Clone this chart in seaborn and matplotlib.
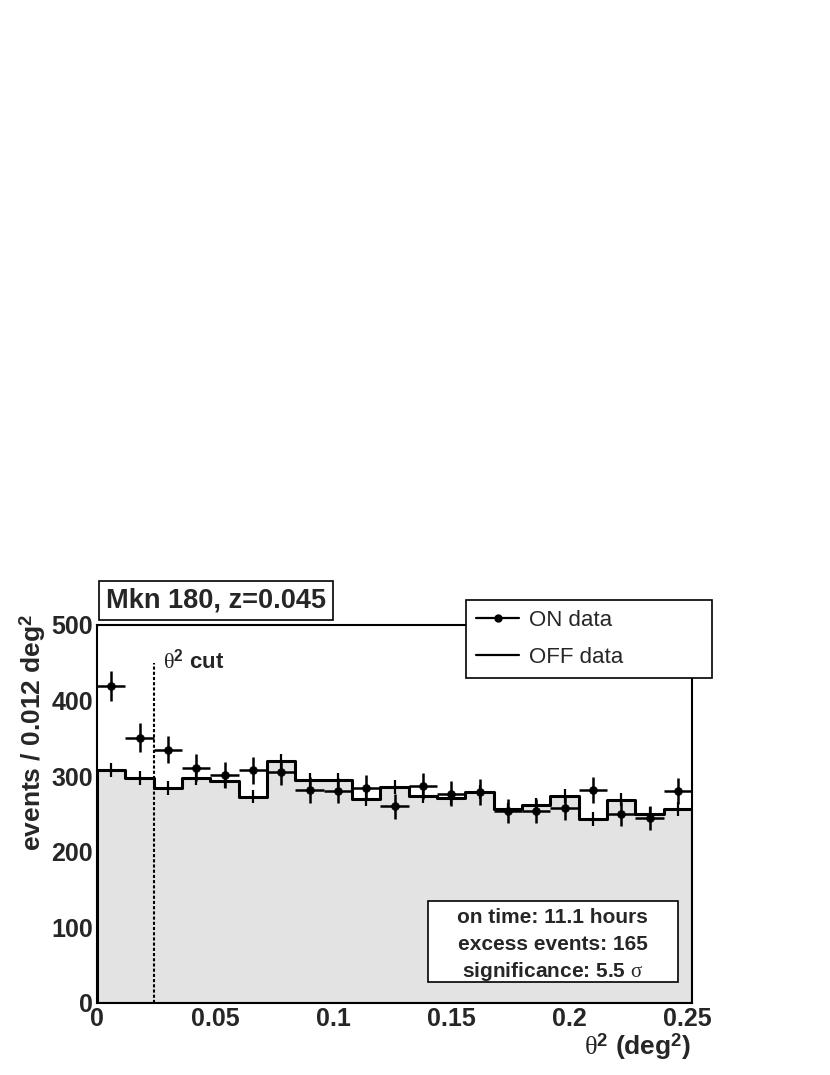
import numpy as np
import pandas as pd
import matplotlib
matplotlib.use("Agg")
import matplotlib.pyplot as plt
import seaborn as sns
from matplotlib.lines import Line2D
from matplotlib.patches import Rectangle
from matplotlib.ticker import MultipleLocator

# ---------------- data ----------------
bin_edges = [0.000, 0.012, 0.024, 0.036, 0.048, 0.060, 0.072, 0.084, 0.096, 0.108, 0.120,
             0.132, 0.144, 0.156, 0.168, 0.180, 0.192, 0.204, 0.216, 0.228, 0.240, 0.252]
bin_centers = [0.006, 0.018, 0.030, 0.042, 0.054, 0.066, 0.078, 0.090, 0.102, 0.114, 0.126,
               0.138, 0.150, 0.162, 0.174, 0.186, 0.198, 0.210, 0.222, 0.234, 0.246]
on_counts = [419, 351, 335, 311, 302, 308, 305, 282, 281, 285, 260,
             287, 277, 279, 254, 254, 258, 282, 250, 245, 280]
on_errors = [20, 19, 18, 18, 17, 18, 17, 17, 17, 17, 16,
             17, 17, 17, 16, 16, 16, 17, 16, 16, 17]
off_counts = [308, 298, 284, 298, 293, 273, 320, 295, 295, 270, 286,
              274, 271, 279, 256, 262, 274, 243, 269, 250, 257]
off_errors = [9, 9, 9, 9, 9, 9, 9, 9, 9, 9, 9,
              9, 9, 9, 9, 9, 9, 9, 9, 9, 9]
x_ticks = [0, 0.05, 0.1, 0.15, 0.2, 0.25]
x_tick_labels = ["0", "0.05", "0.1", "0.15", "0.2", "0.25"]
y_ticks = [0, 100, 200, 300, 400, 500]
y_tick_labels = ["0", "100", "200", "300", "400", "500"]
theta2_cut = 0.024
cut_line_top = 450
title_text = "Mkn 180, z=0.045"
legend_labels = ["ON data", "OFF data"]
stats_lines = ["on time: 11.1 hours", "excess events: 165",
               r"significance: 5.5 $\mathrm{\sigma}$"]
x_label = r"$\mathrm{\theta}^{\mathbf{2}}$ (deg$^{\mathbf{2}}$)"
y_label = r"events / 0.012 deg$^{\mathbf{2}}$"
cut_label = r"$\mathrm{\theta}^{\mathbf{2}}$ cut"

# ---------------- style ----------------
sns.set_theme(style="white")
plt.rcParams['font.family'] = ['Liberation Sans', 'DejaVu Sans']
plt.rcParams.update({
    "mathtext.fontset": "custom",
    "mathtext.rm": "Liberation Serif",
    "mathtext.it": "Liberation Serif:italic",
    "mathtext.bf": "Liberation Sans:bold",
    "mathtext.sf": "Liberation Sans",
    "axes.edgecolor": "black",
    "axes.linewidth": 1.5,
})

W, H = 830, 1075
fig = plt.figure(figsize=(W / 100, H / 100), dpi=100)
fig.patch.set_facecolor("white")

def fx(px):
    return px / W

def fy(py):
    return 1 - py / H

ax_left, ax_right, ax_top, ax_bottom = 97, 692, 625, 1003
ax = fig.add_axes([fx(ax_left), fy(ax_bottom), (ax_right - ax_left) / W, (ax_bottom - ax_top) / H])
ax.set_facecolor("white")

# OFF histogram (filled step)
df_off = pd.DataFrame({"theta2": bin_centers, "counts": off_counts})
sns.histplot(data=df_off, x="theta2", weights="counts", bins=bin_edges,
             element="step", fill=True, facecolor="#e3e3e3", edgecolor="black",
             linewidth=2.2, ax=ax, zorder=2)
ax.errorbar(bin_centers, off_counts, yerr=off_errors, fmt="none",
            ecolor="black", elinewidth=1.6, capsize=0, zorder=3)

# ON data points with error bars
half_widths = np.diff(np.array(bin_edges)) / 2
ax.errorbar(bin_centers, on_counts, xerr=half_widths, yerr=on_errors, fmt="none",
            ecolor="black", elinewidth=1.8, capsize=0, zorder=4)
sns.scatterplot(x=bin_centers, y=on_counts, color="black", s=32,
                edgecolor="black", linewidth=0.5, ax=ax, zorder=5, legend=False)

# theta^2 cut line
ax.vlines(theta2_cut, 0, cut_line_top, colors="black", linewidth=1.5,
          linestyles=(0, (1.5, 1.0)), zorder=6)
ax.text(0.028, 443, cut_label, fontsize=16, fontweight="bold",
        ha="left", va="baseline", zorder=7)

# axes formatting
ax.set_xlim(bin_edges[0], bin_edges[-1])
ax.set_ylim(0, 500)
ax.set_xlabel("")
ax.set_ylabel("")
ax.set_xticks(x_ticks)
ax.set_xticklabels(x_tick_labels, fontsize=18, fontweight="bold")
ax.set_yticks(y_ticks)
ax.set_yticklabels(y_tick_labels, fontsize=18, fontweight="bold")
ax.xaxis.set_minor_locator(MultipleLocator(0.01))
ax.yaxis.set_minor_locator(MultipleLocator(20))
ax.tick_params(axis="both", which="both", direction="in", top=False, right=False,
               color="black", width=1.4)
ax.tick_params(axis="x", which="major", length=9, pad=3)
ax.tick_params(axis="x", which="minor", length=4.5)
ax.tick_params(axis="y", which="major", length=12, pad=3)
ax.tick_params(axis="y", which="minor", length=6)
for s in ax.spines.values():
    s.set_visible(True)
    s.set_color("black")
    s.set_linewidth(1.5)
ax.grid(False)

# axis titles
fig.text(fx(691), fy(1047), x_label, fontsize=19, fontweight="bold",
         ha="right", va="center")
fig.text(fx(33), fy(614), y_label, fontsize=19, fontweight="bold",
         rotation=90, ha="center", va="top")

# title box
fig.add_artist(Rectangle((fx(99), fy(620)), 234 / W, 39 / H, transform=fig.transFigure,
                         facecolor="white", edgecolor="black", linewidth=1.2, zorder=10))
fig.text(fx(216), fy(608), title_text, fontsize=19.5, fontweight="bold",
         ha="center", va="baseline", zorder=11)

# legend
handles = [Line2D([], [], color="black", lw=1.6, marker="o", markersize=5),
           Line2D([], [], color="black", lw=1.6)]
leg = fig.legend(handles, legend_labels, loc="upper left",
                 bbox_to_anchor=(fx(466), fy(599.5), 245.5 / W, 0.0), mode="expand",
                 fontsize=16, frameon=True, fancybox=False, shadow=False,
                 framealpha=1, edgecolor="black", borderpad=0.45, labelspacing=0.75,
                 handlelength=1.95, handletextpad=0.42, borderaxespad=0)
leg.get_frame().set_linewidth(1.2)
leg.set_zorder(12)

# statistics box
fig.add_artist(Rectangle((fx(427.7), fy(981.7)), 250 / W, 80.7 / H, transform=fig.transFigure,
                         facecolor="white", edgecolor="black", linewidth=1.2, zorder=10))
for line, base in zip(stats_lines, [922.7, 950.0, 977.3]):
    fig.text(fx(552.7), fy(base), line, fontsize=15, fontweight="bold",
             ha="center", va="baseline", zorder=11)

fig.savefig("out.png", dpi=100, facecolor="white")
